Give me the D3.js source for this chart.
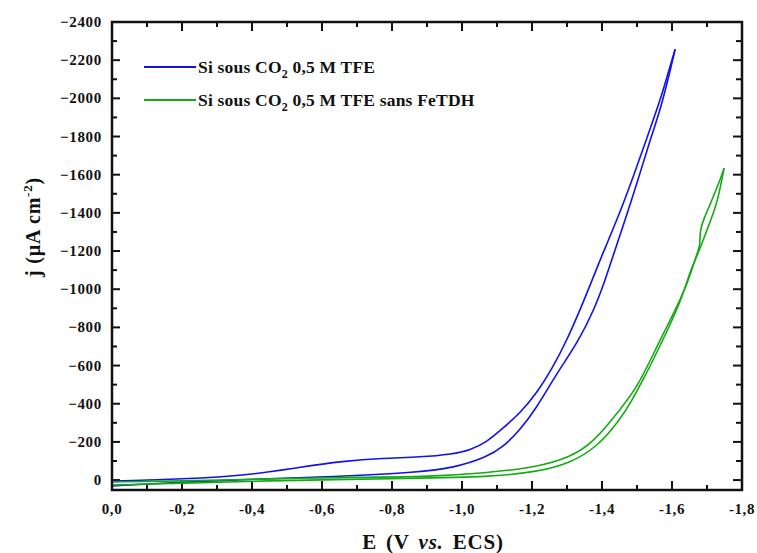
<!DOCTYPE html>
<html>
<head>
<meta charset="utf-8">
<script src="https://cdn.jsdelivr.net/npm/d3@7"></script>
<style>
  html, body { margin: 0; padding: 0; background: #fff; }
  svg { display: block; }
  text { font-family: "Liberation Serif", "Times New Roman", serif; fill: #111; }
</style>
</head>
<body>
<svg id="chart" width="757" height="553"></svg>
<script>
// ---- Data (E in V vs ECS, j in µA cm-2); each series is one closed CV loop ----
const blueE = [0, -0.203, -0.394, -0.537, -0.66, -0.774, -0.88, -0.974, -1.023, -1.071, -1.117, -1.166, -1.214, -1.26, -1.3, -1.349, -1.383, -1.406, -1.446, -1.489, -1.529, -1.569, -1.591, -1.609,
               -1.597, -1.569, -1.537, -1.5, -1.463, -1.434, -1.409, -1.377, -1.331, -1.283, -1.26, -1.214, -1.166, -1.117, -1.071, -0.974, -0.88, -0.631, -0.403, -0.203, 0];
const blueJ = [5, -5, -26, -68, -99, -115, -120, -136, -157, -199, -272, -351, -456, -592, -733, -942, -1100, -1204, -1377, -1587, -1796, -2005, -2147, -2257,
               -2162, -1953, -1780, -1555, -1346, -1189, -1047, -890, -723, -592, -524, -382, -262, -173, -120, -63, -42, -16, -5, 10, 31];

const greenE = [0, -0.203, -0.403, -0.729, -0.88, -1.071, -1.214, -1.309, -1.374, -1.451, -1.5, -1.537, -1.574, -1.614, -1.651, -1.671, -1.68, -1.68, -1.689, -1.714, -1.737, -1.749,
                -1.743, -1.729, -1.703, -1.689, -1.671, -1.651, -1.629, -1.594, -1.557, -1.52, -1.486, -1.451, -1.386, -1.309, -1.214, -1.071, -0.88, -0.403, -0.203, 0];
const greenJ = [10, 5, -5, -16, -16, -37, -68, -120, -194, -367, -487, -623, -764, -906, -1063, -1189, -1220, -1309, -1361, -1466, -1571, -1634,
                -1581, -1450, -1325, -1257, -1173, -1089, -958, -812, -670, -534, -419, -314, -173, -89, -42, -16, -10, 5, 16, 26];

const seriesNames = ["Si sous CO|2| 0,5 M TFE", "Si sous CO|2| 0,5 M TFE sans FeTDH"];
const seriesColors = ["#1010f0", "#14aa14"];
const xTickLabels = ["0,0", "-0,2", "-0,4", "-0,6", "-0,8", "-1,0", "-1,2", "-1,4", "-1,6", "-1,8"];
const yTickValues = [0, -200, -400, -600, -800, -1000, -1200, -1400, -1600, -1800, -2000, -2200, -2400];

// ---- Layout ----
const svg = d3.select("#chart");
const L = 112, R = 742, T = 22, B = 490;
const x = d3.scaleLinear().domain([0, -1.8]).range([L, R]);
const y = d3.scaleLinear().domain([52, -2400]).range([B, T]);

const xMajor = d3.range(0, 10).map(i => -0.2 * i);
const xMinor = d3.range(0, 19).map(i => -0.1 * i).filter((v, i) => i % 2 === 1);
const yMinor = d3.range(0, 25).map(i => -100 * i).filter((v, i) => i % 2 === 1);

// inward ticks on all four sides
const tk = svg.append("g").attr("stroke", "#111").attr("stroke-width", 2);
xMajor.forEach(v => {
  tk.append("line").attr("x1", x(v)).attr("x2", x(v)).attr("y1", B).attr("y2", B - 9);
  tk.append("line").attr("x1", x(v)).attr("x2", x(v)).attr("y1", T).attr("y2", T + 9);
});
xMinor.forEach(v => {
  tk.append("line").attr("x1", x(v)).attr("x2", x(v)).attr("y1", B).attr("y2", B - 5);
  tk.append("line").attr("x1", x(v)).attr("x2", x(v)).attr("y1", T).attr("y2", T + 5);
});
yTickValues.forEach(v => {
  tk.append("line").attr("x1", L).attr("x2", L + 8).attr("y1", y(v)).attr("y2", y(v));
  tk.append("line").attr("x1", R).attr("x2", R - 9).attr("y1", y(v)).attr("y2", y(v));
});
yMinor.forEach(v => {
  tk.append("line").attr("x1", L).attr("x2", L + 5).attr("y1", y(v)).attr("y2", y(v));
  tk.append("line").attr("x1", R).attr("x2", R - 6).attr("y1", y(v)).attr("y2", y(v));
});

// tick labels
svg.append("g").selectAll("text").data(xMajor).join("text")
  .attr("x", d => x(d)).attr("y", 514)
  .attr("text-anchor", "middle").attr("font-size", 15).attr("font-weight", "bold")
  .attr("letter-spacing", 0.6)
  .text((d, i) => xTickLabels[i]);
svg.append("g").selectAll("text").data(yTickValues).join("text")
  .attr("x", 102).attr("y", d => y(d) + 5)
  .attr("text-anchor", "end").attr("font-size", 15).attr("font-weight", "bold")
  .attr("letter-spacing", 0.7)
  .text(d => d3.format("d")(d));

// curves: each loop is split at its turning point (most cathodic potential) into
// forward and return branches, each smoothed with a B-spline through its endpoints
const line = d3.line().x(d => x(d[0])).y(d => y(d[1])).curve(d3.curveBasis);
const g = svg.append("g");
[[blueE, blueJ], [greenE, greenJ]].forEach((s, i) => {
  const pts = s[0].map((e, k) => [e, s[1][k]]);
  const tip = d3.minIndex(s[0]);
  [pts.slice(0, tip + 1), pts.slice(tip)].forEach(branch => {
    g.append("path").attr("d", line(branch)).attr("fill", "none")
      .attr("stroke", seriesColors[i]).attr("stroke-width", 1.6).attr("stroke-linejoin", "round");
  });
});

// frame
svg.append("rect").attr("x", L).attr("y", T).attr("width", R - L).attr("height", B - T)
  .attr("fill", "none").attr("stroke", "#111").attr("stroke-width", 2.5);

// legend
seriesNames.forEach((name, i) => {
  const ly = 67 + i * 33;
  svg.append("line").attr("x1", 144).attr("x2", 196).attr("y1", ly).attr("y2", ly)
    .attr("stroke", seriesColors[i]).attr("stroke-width", 2);
  const t = svg.append("text").attr("x", 198).attr("y", ly + 6)
    .attr("font-size", 17.5).attr("font-weight", "bold").attr("letter-spacing", 0.2);
  name.split("|").forEach((part, k) => {
    const ts = t.append("tspan").text(part);
    if (k === 1) ts.attr("font-size", 12).attr("dy", 5);
    if (k === 2) ts.attr("dy", -5);
  });
});

// axis titles
const xt = svg.append("text").attr("x", 433).attr("y", 549).attr("text-anchor", "middle")
  .attr("font-size", 21).attr("font-weight", "bold").attr("letter-spacing", 0.8).attr("word-spacing", 3);
xt.append("tspan").text("E (V ");
xt.append("tspan").attr("font-style", "italic").text("vs.");
xt.append("tspan").text(" ECS)");

const yt = svg.append("text").attr("transform", "translate(40,227) rotate(-90)")
  .attr("text-anchor", "middle").attr("font-size", 20).attr("font-weight", "bold").attr("letter-spacing", 0.8);
yt.append("tspan").text("j (µA cm");
yt.append("tspan").attr("font-size", 13).attr("dy", -8).text("-2");
yt.append("tspan").attr("dy", 8).text(")");
</script>
</body>
</html>
